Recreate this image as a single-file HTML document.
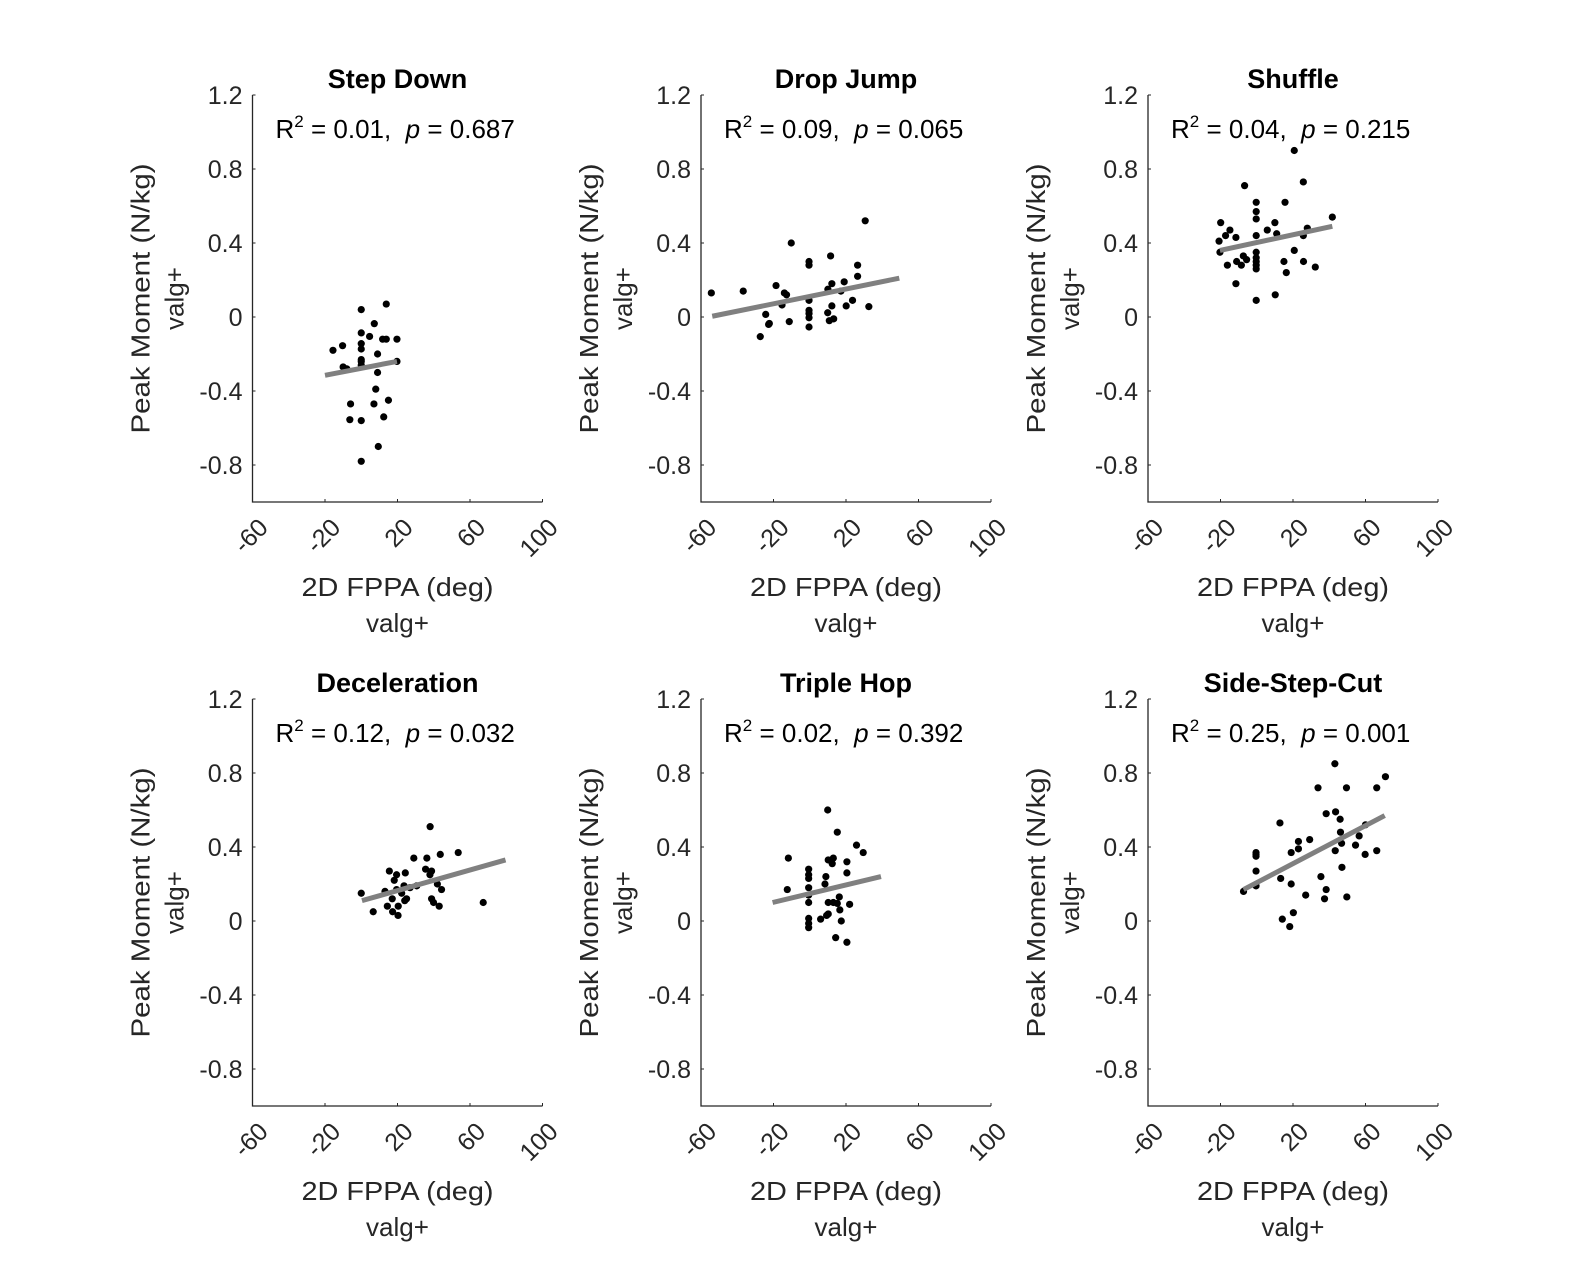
<!DOCTYPE html>
<html><head><meta charset="utf-8"><style>body{margin:0;background:#fff}svg{display:block}text{font-family:"Liberation Sans",sans-serif}</style></head>
<body>
<svg id="c" width="1594" height="1275" viewBox="0 0 1594 1275"></svg>
<script>
const titles=["Step Down","Drop Jump","Shuffle","Deceleration","Triple Hop","Side-Step-Cut"];
const r2Vals=["0.01","0.09","0.04","0.12","0.02","0.25"];
const pVals=["0.687","0.065","0.215","0.032","0.392","0.001"];
const yTicks=[-0.8,-0.4,0,0.4,0.8,1.2];
const yTickLabels=["-0.8","-0.4","0","0.4","0.8","1.2"];
const xTicks=[-60,-20,20,60,100];
const fitX=[[-20,19.7],[-53.8,49.4],[-20.3,41.7],[0.4,79.6],[-20.5,39.3],[-7.3,70.6]];
const fitY=[[-0.315,-0.24],[0.004,0.21],[0.36,0.49],[0.11,0.33],[0.10,0.24],[0.17,0.57]];
const xs0=[0,13.8,7.2,0,4.6,11.8,13.8,19.7,-15.6,-10.3,0,0,9,-10,-8,0,0,0,9,19.7,8,15,-5.9,7,-6.3,0,12.4,9.4,0];
const ys0=[0.04,0.07,-0.036,-0.086,-0.105,-0.12,-0.12,-0.12,-0.18,-0.155,-0.144,-0.173,-0.2,-0.27,-0.28,-0.23,-0.24,-0.26,-0.3,-0.24,-0.39,-0.45,-0.47,-0.47,-0.555,-0.56,-0.54,-0.7,-0.78];
const xs1=[-54.3,-36.7,-18.6,-10.2,-27.3,-24.3,-22.7,-22.3,-15.3,-14,-12.8,-11.3,-0.4,-0.4,-0.4,-0.4,-0.4,-0.4,-0.4,10,11.5,12.2,12.2,9.9,10.8,13.2,17.2,19,20.1,23.6,26.4,26.4,30.6,32.6];
const ys1=[0.13,0.14,0.17,0.4,-0.106,0.014,-0.04,-0.035,0.065,0.13,0.12,-0.025,0.3,0.28,0.09,0.036,0.018,-0.004,-0.054,0.15,0.33,0.18,0.06,0.023,-0.02,-0.01,0.14,0.19,0.06,0.09,0.28,0.22,0.52,0.056];
const xs2=[20.7,25.7,-6.7,-0.3,-0.3,-0.3,-0.3,15.6,10,5.8,11,-19.9,-14.8,-17.2,-20.8,-11.5,-20.3,-7.4,-5.6,-16.2,-11.1,-8.5,-0.3,-0.3,-0.3,-0.3,-0.3,20.7,15,16.3,25.8,32.3,27.9,25.7,41.7,-11.5,10.2,-0.3];
const ys2=[0.9,0.73,0.71,0.62,0.57,0.53,0.44,0.62,0.51,0.47,0.45,0.51,0.47,0.44,0.41,0.43,0.35,0.33,0.31,0.28,0.3,0.28,0.35,0.32,0.3,0.28,0.26,0.36,0.3,0.24,0.3,0.27,0.48,0.44,0.54,0.18,0.12,0.09];
const xs3=[38,53.5,43.6,36.2,29,35.5,38.8,37.9,15.5,19.5,24.3,18.2,0,13.1,19.5,23.6,26.9,30.6,22.3,17.1,25,24,42,44.3,38.8,39.9,43,14.4,17.3,20.4,20.3,6.6,67.3];
const ys3=[0.51,0.37,0.36,0.34,0.34,0.28,0.27,0.25,0.27,0.25,0.26,0.22,0.15,0.16,0.17,0.19,0.18,0.19,0.15,0.12,0.12,0.11,0.2,0.17,0.12,0.1,0.08,0.08,0.05,0.08,0.03,0.05,0.1];
const xs4=[9.9,15.2,25.8,29.5,-11.8,10.2,13,12.4,20.5,20.5,-0.6,-0.6,-0.6,8.9,-0.6,8.4,-12.4,-0.6,-0.6,10.2,13,15.2,16.3,16.6,22,10.2,9.3,6,-0.6,-0.6,-0.6,17.4,14.3,20.5];
const ys4=[0.6,0.48,0.41,0.37,0.34,0.33,0.34,0.31,0.32,0.26,0.28,0.25,0.23,0.24,0.18,0.2,0.17,0.14,0.1,0.1,0.1,0.095,0.13,0.06,0.09,0.038,0.03,0.01,0.014,-0.013,-0.036,0,-0.09,-0.115];
const xs5=[-7.3,-0.4,-0.4,-0.4,-0.4,-0.4,12.8,13.2,14.1,18.2,19,19,20.2,23,23,27,29.2,33.8,35.4,38.3,38.3,37.4,43.1,43.5,43.3,46,46.2,46.8,47,49.5,49.7,54.5,56.5,60,59.8,66.2,66.2,71];
const ys5=[0.16,0.37,0.35,0.36,0.27,0.19,0.53,0.23,0.01,-0.03,0.2,0.37,0.045,0.43,0.39,0.14,0.44,0.72,0.24,0.58,0.17,0.12,0.85,0.59,0.38,0.55,0.48,0.42,0.29,0.72,0.13,0.41,0.46,0.52,0.36,0.72,0.38,0.78];
const XS=[xs0,xs1,xs2,xs3,xs4,xs5], YS=[ys0,ys1,ys2,ys3,ys4,ys5];
const NS="http://www.w3.org/2000/svg", svg=document.getElementById('c');
function el(t,a,p,txt){const e=document.createElementNS(NS,t);for(const k in a)e.setAttribute(k,a[k]);if(txt!==undefined)e.textContent=txt;(p||svg).appendChild(e);return e;}
const W=290, H=407;
for(let i=0;i<6;i++){
  const ox=[252.5,701,1148][i%3], oy=[95,699][Math.floor(i/3)];
  const sx=v=>ox+(v+60)/160*W, sy=v=>oy+(1.2-v)/2.2*H;
  const g=el('g',{});
  
  
  const ax=el('path',{d:`M${ox} ${oy}V${oy+H}H${ox+W}`,stroke:'#262626','stroke-width':1.3,fill:'none'},g);
  
  yTicks.forEach((v,k)=>{el('line',{x1:ox,x2:ox+3,y1:sy(v),y2:sy(v),stroke:'#262626'},g);
    const t=el('text',{x:ox-10,y:sy(v)+9,'text-anchor':'end','font-size':25,fill:'#262626'},g,yTickLabels[k]);
    });
  xTicks.forEach(v=>{el('line',{x1:sx(v),x2:sx(v),y1:oy+H,y2:oy+H-3,stroke:'#262626'},g);
    const ax_=sx(v)+17, ay_=oy+H+27;
    const t=el('text',{x:ax_,y:ay_,'text-anchor':'end','font-size':25,fill:'#262626',transform:`rotate(-45 ${ax_} ${ay_})`},g,String(v));
    });
  const tt=el('text',{x:ox+145,y:oy-7,'text-anchor':'middle','font-size':27,'font-weight':'bold',fill:'#000'},g,titles[i]);
  
  const r=el('text',{x:ox+23,y:oy+43,'font-size':26,fill:'#000','xml:space':'preserve'},g);
  
  r.innerHTML=`R<tspan dy="-11" font-size="17">2</tspan><tspan dy="11"> = ${r2Vals[i]},\u00a0 </tspan><tspan font-style="italic">p</tspan> = ${pVals[i]}`;
  const cy=oy+H/2;
  const yl=el('text',{x:ox-103,y:cy,'text-anchor':'middle','font-size':26,fill:'#262626',textLength:270,lengthAdjust:'spacingAndGlyphs',transform:`rotate(-90 ${ox-103} ${cy})`},g,'Peak Moment (N/kg)');
  
  const yl2=el('text',{x:ox-69,y:cy,'text-anchor':'middle','font-size':26,fill:'#262626',transform:`rotate(-90 ${ox-69} ${cy})`},g,'valg+');
  
  const xl=el('text',{x:ox+145,y:oy+H+94,'text-anchor':'middle','font-size':26,fill:'#262626',textLength:192,lengthAdjust:'spacingAndGlyphs'},g,'2D FPPA (deg)');
  
  const xl2=el('text',{x:ox+145,y:oy+H+130,'text-anchor':'middle','font-size':26,fill:'#262626'},g,'valg+');
  
  XS[i].forEach((x,k)=>{const c=el('circle',{cx:sx(x),cy:sy(YS[i][k]),r:3.6,fill:'#000'},g);
    });
  const fl=el('line',{x1:sx(fitX[i][0]),y1:sy(fitY[i][0]),x2:sx(fitX[i][1]),y2:sy(fitY[i][1]),stroke:'#808080','stroke-width':5},g);
  
}
</script>
</body></html>
